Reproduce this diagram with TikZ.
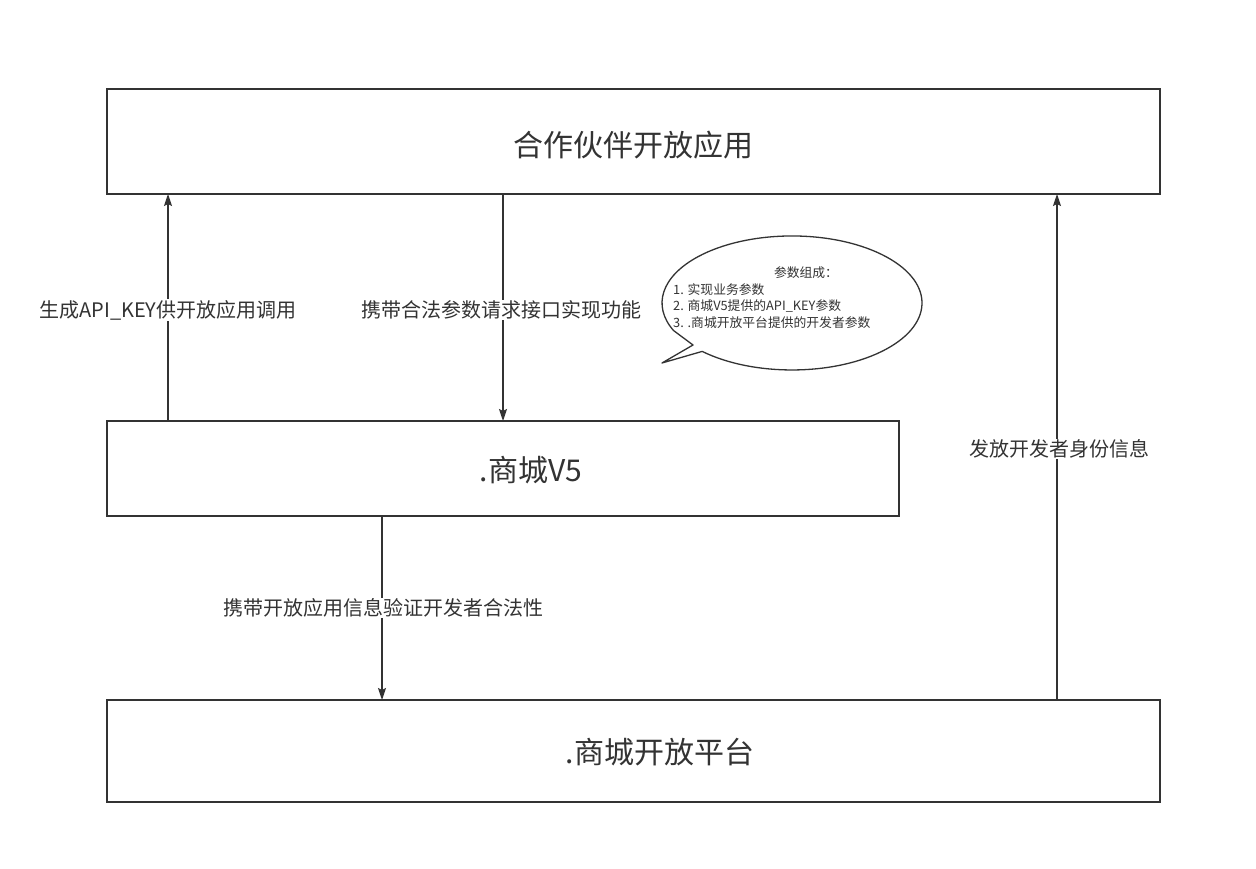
\documentclass[tikz,border=0pt]{standalone}
\usepackage{fontspec}
\setmainfont{Noto Sans CJK SC}
\usetikzlibrary{arrows.meta}
\definecolor{ink}{HTML}{333333}
\tikzset{
  box/.style={draw=ink, line width=1.6pt, minimum height=0pt, inner sep=0pt},
  big/.style={text=ink, font=\fontsize{30}{35}\selectfont},
  lbl/.style={text=ink, fill=white, inner sep=1pt, font=\fontsize{20}{24}\selectfont},
  small/.style={text=ink, font=\fontsize{12.8}{16.5}\selectfont, inner sep=0pt},
  conn/.style={draw=ink, line width=1.3pt, -{Stealth[length=12pt,width=8pt,inset=2pt]}},
}
\begin{document}
\begin{tikzpicture}[x=1pt,y=-1pt]
\useasboundingbox[fill=white] (0,0) rectangle (1256,869);
% boxes
\draw[box] (107,89) rectangle (1160,194);
\draw[box] (107,421) rectangle (899,516);
\draw[box] (107,700) rectangle (1160,802);
\node[big] (t1) at (633,145) {合作伙伴开放应用};
\node[big] (t2) at (531,470) {.商城V5};
\node[big] (t3) at (660,752) {.商城开放平台};
% anchor coordinates on box edges
\coordinate (a1s) at (168,421); \coordinate (a1e) at (168,194);
\coordinate (a2s) at (503,194); \coordinate (a2e) at (503,421);
\coordinate (a3s) at (382,516); \coordinate (a3e) at (382,700);
\coordinate (a4s) at (1057,700); \coordinate (a4e) at (1057,194);
\draw[conn] (a1s) -- (a1e);
\draw[conn] (a2s) -- (a2e);
\draw[conn] (a3s) -- (a3e);
\draw[conn] (a4s) -- (a4e);
\node[lbl] (l1) at (168,310) {生成API\_KEY供开放应用调用};
\node[lbl] (l2) at (501,310) {携带合法参数请求接口实现功能};
\node[lbl] (l3) at (383,608) {携带开放应用信息验证开发者合法性};
\node[lbl] (l4) at (1059,449) {发放开发者身份信息};
% callout
\draw[ink, line width=1.3pt, line join=round]
  (693,345) -- (662,363) -- (702.2,351.4)
  arc[start angle=133.7, end angle=-204.3, x radius=130, y radius=67]
  -- cycle;
\node[small] (ct) at (806,273) {参数组成：};
\node[small, anchor=west, align=left] (cl) at (673,306)
  {1. 实现业务参数\\2. 商城V5提供的API\_KEY参数\\3. .商城开放平台提供的开发者参数};
\end{tikzpicture}
\end{document}
